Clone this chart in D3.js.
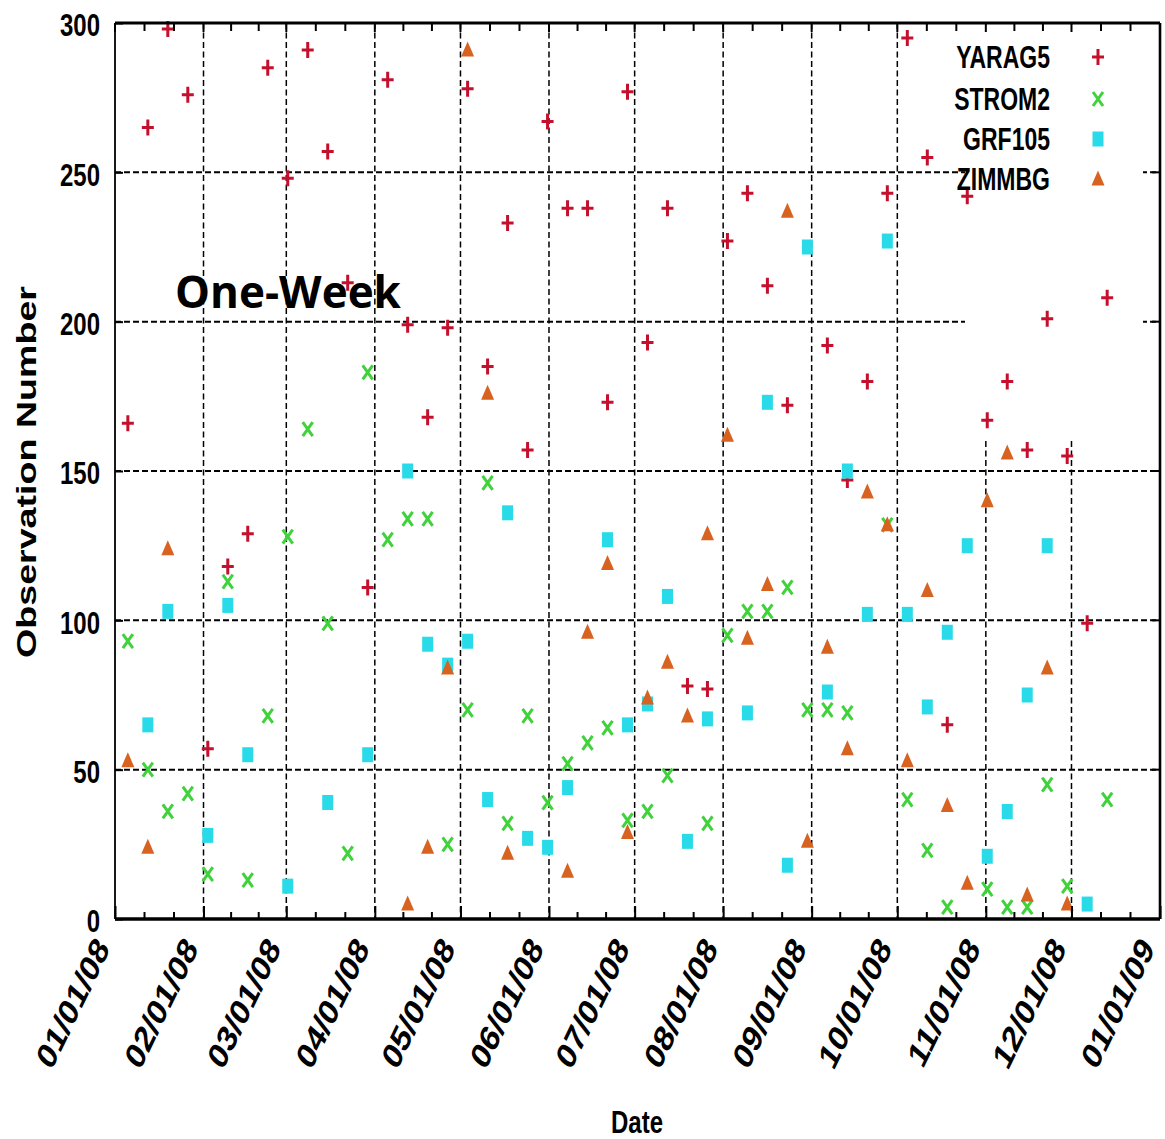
<!DOCTYPE html>
<html>
<head>
<meta charset="utf-8">
<script src="https://cdn.jsdelivr.net/npm/d3@7"></script>
<style>
  body { margin: 0; background: #fff; }
  svg { display: block; }
  .lbl { font-family: "Liberation Sans", Arial, sans-serif; font-weight: bold; fill: #000; }
</style>
</head>
<body>
<svg id="chart" width="1165" height="1139"></svg>
<script>
// weekly observation dates (Saturdays, 2008)
const weeks = [
  "01/05/08", "01/12/08", "01/19/08", "01/26/08", "02/02/08", "02/09/08", "02/16/08", "02/23/08",
  "03/01/08", "03/08/08", "03/15/08", "03/22/08", "03/29/08", "04/05/08", "04/12/08", "04/19/08",
  "04/26/08", "05/03/08", "05/10/08", "05/17/08", "05/24/08", "05/31/08", "06/07/08", "06/14/08",
  "06/21/08", "06/28/08", "07/05/08", "07/12/08", "07/19/08", "07/26/08", "08/02/08", "08/09/08",
  "08/16/08", "08/23/08", "08/30/08", "09/06/08", "09/13/08", "09/20/08", "09/27/08", "10/04/08",
  "10/11/08", "10/18/08", "10/25/08", "11/01/08", "11/08/08", "11/15/08", "11/22/08", "11/29/08",
  "12/06/08", "12/13/08"
]

const yarag5 = [166, 265, 298, 276, 57, 118, 129, 285, 248, 291, 257, 213, 111, 281, 199, 168,
  198, 278, 185, 233, 157, 267, 238, 238, 173, 277, 193, 238, 78, 77, 227, 243,
  212, 172, null, 192, 147, 180, 243, 295, 255, 65, 242, 167, 180, 157, 201, 155,
  99, 208]

const strom2 = [93, 50, 36, 42, 15, 113, 13, 68, 128, 164, 99, 22, 183, 127, 134, 134,
  25, 70, 146, 32, 68, 39, 52, 59, 64, 33, 36, 48, null, 32, 95, 103,
  103, 111, 70, 70, 69, null, 132, 40, 23, 4, null, 10, 4, 4, 45, 11,
  null, 40]

const grf105 = [null, 65, 103, null, 28, 105, 55, null, 11, null, 39, null, 55, null, 150, 92,
  85, 93, 40, 136, 27, 24, 44, null, 127, 65, 72, 108, 26, 67, null, 69,
  173, 18, 225, 76, 150, 102, 227, 102, 71, 96, 125, 21, 36, 75, 125, null,
  5, null]

const zimmbg = [53, 24, 124, null, null, null, null, null, null, null, null, null, null, null, 5, 24,
  84, 291, 176, 22, null, null, 16, 96, 119, 29, 74, 86, 68, 129, 162, 94,
  112, 237, 26, 91, 57, 143, 132, 53, 110, 38, 12, 140, 156, 8, 84, 5,
  null, null]

const seriesNames = ["YARAG5", "STROM2", "GRF105", "ZIMMBG"]
const seriesValues = [yarag5, strom2, grf105, zimmbg]
const seriesColors = ["#c4102c", "#3fd23a", "#29dbe8", "#d8621f"]

const yTicks = [0, 50, 100, 150, 200, 250, 300]

const width = 1165, height = 1139
const margin = {top: 23, right: 5, bottom: 220, left: 115}
const textStretch = 1.34   // the source image is stretched vertically

const svg = d3.select("#chart")
const parseDate = d3.timeParse("%m/%d/%y")

const x = d3.scaleTime()
    .domain([new Date(2008, 0, 1), new Date(2009, 0, 1)])
    .range([margin.left, width - margin.right])
const y = d3.scaleLinear()
    .domain([0, 300])
    .range([height - margin.bottom, margin.top])

const months = d3.timeMonth.range(new Date(2008, 0, 1), new Date(2009, 0, 2))
const minorTicks = d3.pairs(months).flatMap(([a, b]) => [1, 2].map(k => new Date(+a + (b - a) * k / 3)))

const x0 = x.range()[0], x1 = x.range()[1]
const y0 = y.range()[0], y1 = y.range()[1]

// dashed grid
svg.append("g")
    .selectAll("line")
    .data(months.slice(1, -1))
    .join("line")
    .attr("x1", d => x(d)).attr("x2", d => x(d))
    .attr("y1", y1).attr("y2", y0)
    .attr("stroke", "#000").attr("stroke-width", 1.5)
    .attr("stroke-dasharray", "6,3.5")
svg.append("g")
    .selectAll("line")
    .data(yTicks.slice(1, -1))
    .join("line")
    .attr("x1", x0).attr("x2", x1)
    .attr("y1", d => y(d)).attr("y2", d => y(d))
    .attr("stroke", "#000").attr("stroke-width", 2)
    .attr("stroke-dasharray", "6,3")

// opaque key area
const key = {left: 965, right: 1143, top: y1 + 1.5, bottom: 440}
svg.append("rect")
    .attr("x", key.left).attr("y", key.top)
    .attr("width", key.right - key.left).attr("height", key.bottom - key.top)
    .attr("fill", "#fff")

// marker shapes (gnuplot point types, stretched)
const shapes = [
    "M-6,0H6M0,-8V8",
    "M-5,-7L5,7M-5,7L5,-7",
    "M-5.5,-7.5H5.5V7.5H-5.5Z",
    "M0,-8.5L6.5,6.5H-6.5Z"
]
function styleMark(sel, i) {
    if (i < 2) {
        sel.attr("fill", "none").attr("stroke", seriesColors[i]).attr("stroke-width", 3)
    } else {
        sel.attr("fill", seriesColors[i]).attr("stroke", "none")
    }
}

seriesValues.forEach((vals, i) => {
    const pts = weeks.map((w, j) => ({date: d3.timeHour.offset(parseDate(w), 12), value: vals[j]}))
        .filter(d => d.value !== null)
    svg.append("g")
        .selectAll("path")
        .data(pts)
        .join("path")
        .attr("transform", d => `translate(${x(d.date)},${y(d.value)})`)
        .attr("d", shapes[i])
        .call(styleMark, i)
})

// key entries
const keyRows = [57, 99, 139, 179]
seriesNames.forEach((name, i) => {
    svg.append("text")
        .attr("class", "lbl")
        .attr("font-size", 23)
        .attr("text-anchor", "end")
        .attr("transform", `translate(1050,${keyRows[i]}) scale(1,${textStretch})`)
        .attr("dy", "0.36em")
        .text(name)
    svg.append("path")
        .attr("transform", `translate(1098,${keyRows[i]})`)
        .attr("d", shapes[i])
        .call(styleMark, i)
})

// border
svg.append("line").attr("x1", x0).attr("x2", x1).attr("y1", y1).attr("y2", y1).attr("stroke", "#000").attr("stroke-width", 3)
svg.append("line").attr("x1", x0).attr("x2", x1).attr("y1", y0).attr("y2", y0).attr("stroke", "#000").attr("stroke-width", 3.5)
svg.append("line").attr("x1", x0).attr("x2", x0).attr("y1", y1).attr("y2", y0).attr("stroke", "#000").attr("stroke-width", 1.8)
svg.append("line").attr("x1", x1).attr("x2", x1).attr("y1", y1).attr("y2", y0).attr("stroke", "#000").attr("stroke-width", 2.6)

// minor ticks top and bottom
const tickG = svg.append("g").attr("stroke", "#000").attr("stroke-width", 2)
tickG.selectAll(".mb").data(minorTicks).join("line")
    .attr("x1", d => x(d)).attr("x2", d => x(d)).attr("y1", y0).attr("y2", y0 - 7)
tickG.selectAll(".mt").data(minorTicks).join("line")
    .attr("x1", d => x(d)).attr("x2", d => x(d)).attr("y1", y1).attr("y2", y1 + 8)
tickG.selectAll(".Mt").data(months).join("line")
    .attr("x1", d => x(d)).attr("x2", d => x(d)).attr("y1", y1).attr("y2", y1 + 9)
tickG.selectAll(".yr").data(yTicks).join("line")
    .attr("x1", x1).attr("x2", x1 - 8).attr("y1", d => y(d)).attr("y2", d => y(d))

// x axis
const xAxis = svg.append("g")
    .attr("transform", `translate(0,${y0})`)
    .call(d3.axisBottom(x).tickValues(months).tickFormat(d3.timeFormat("%m/%d/%y"))
        .tickSizeInner(-13).tickSizeOuter(0))
xAxis.select(".domain").remove()
xAxis.selectAll(".tick line").attr("stroke-width", 2)
xAxis.selectAll(".tick text")
    .attr("class", "lbl")
    .attr("font-size", 28)
    .attr("x", 0).attr("y", 0).attr("dy", null)
    .attr("text-anchor", "end")
    .attr("transform", `translate(-5,30) scale(1,${textStretch}) rotate(-57)`)

// y axis
const yAxis = svg.append("g")
    .attr("transform", `translate(${x0},0)`)
    .call(d3.axisLeft(y).tickValues(yTicks).tickSizeInner(-8).tickSizeOuter(0).tickPadding(15))
yAxis.select(".domain").remove()
yAxis.selectAll(".tick line").attr("stroke-width", 2)
yAxis.selectAll(".tick text")
    .attr("class", "lbl")
    .attr("font-size", 24)
    .attr("dy", "0.4em")
    .attr("transform", `scale(1,${textStretch})`)

// axis titles
svg.append("text")
    .attr("class", "lbl")
    .attr("font-size", 24)
    .attr("text-anchor", "middle")
    .attr("transform", `translate(637,1133) scale(1,${textStretch})`)
    .text("Date")
svg.append("text")
    .attr("class", "lbl")
    .attr("font-size", 28.5)
    .attr("text-anchor", "middle")
    .attr("transform", `translate(36,472) scale(1,1.32) rotate(-90)`)
    .text("Observation Number")

// overlay annotation
svg.append("text")
    .attr("x", 175).attr("y", 308)
    .attr("font-family", "'Open Sans', 'Noto Sans', sans-serif")
    .attr("font-weight", "bold")
    .attr("font-size", 44)
    .attr("fill", "#000")
    .text("One-Week")
</script>
</body>
</html>
